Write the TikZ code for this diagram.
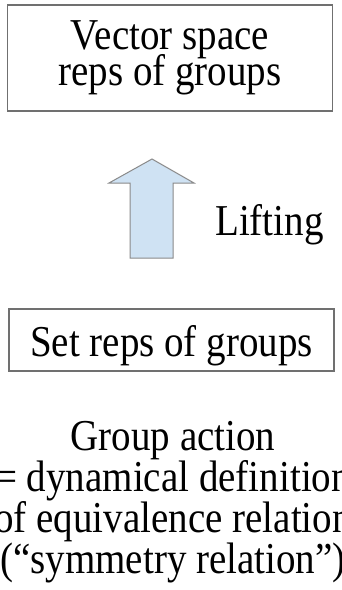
\documentclass[tikz,border=0pt]{standalone}
\usepackage{graphicx}
\usepackage{fontspec}
\setmainfont{Liberation Serif}
\definecolor{boxgray}{HTML}{707070}
\definecolor{arrowfill}{HTML}{CFE2F3}
\definecolor{arrowedge}{HTML}{8A8A8A}
% slightly tall lettering
\newcommand{\talltext}[1]{\scalebox{1}[1.13]{#1}}
\begin{document}
\begin{tikzpicture}[x=1pt,y=-1pt,
  box/.style={draw=boxgray, line width=1.2pt, inner sep=0pt},
  txt/.style={font=\fontsize{39}{36}\selectfont, anchor=base, inner sep=0pt},
]
\useasboundingbox (0,0) rectangle (342,590);
\clip (0,0) rectangle (342,590);
\fill[white] (0,0) rectangle (342,590);

% upper box: vector space representations
\node[box, minimum width=324.5pt, minimum height=106pt] (vec) at (170,58) {};
\node[txt] (vecA) at (170,49) {\talltext{Vector space}};
\node[txt] (vecB) at (170,85) {\talltext{reps of groups}};

% block arrow for the lifting step
\draw[fill=arrowfill, draw=arrowedge, line width=1pt, line join=miter]
  (152,159) -- (194,183) -- (173,183) -- (173,258) -- (130,258)
  -- (130,183) -- (109,183) -- cycle;
\node[txt, anchor=base west] (lift) at (215,235) {\talltext{Lifting}};

% lower box: set representations
\node[box, minimum width=325pt, minimum height=62pt] (set) at (171.5,340) {};
\node[txt] (setA) at (171.5,356) {\talltext{Set reps of groups}};

% caption below
\node[txt] (capA) at (173,450) {\talltext{Group action}};
\node[txt] (capB) at (173,491) {\talltext{= dynamical definition}};
\node[txt] (capC) at (173,532) {\talltext{of equivalence relation}};
\node[txt] (capD) at (173,573) {\talltext{(“symmetry relation”)}};
\end{tikzpicture}
\end{document}
